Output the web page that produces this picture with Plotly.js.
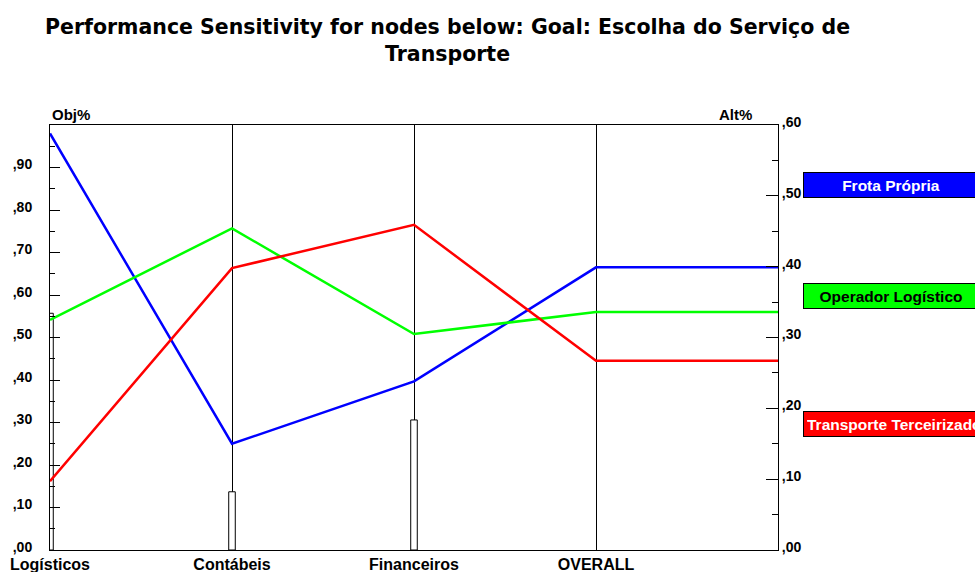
<!DOCTYPE html>
<html>
<head>
<meta charset="utf-8">
<script src="https://cdn.plot.ly/plotly-3.0.1.min.js"></script>
<style>
  html, body { margin: 0; padding: 0; background: #ffffff; }
  #chart { width: 975px; height: 572px; }
</style>
</head>
<body>
<div id="chart"></div>
<script>
// ---- Data ----
const categories = ["Logísticos", "Contábeis", "Financeiros", "OVERALL"];
const nodePriority = [0.557, 0.137, 0.306];           // bars, left axis (Obj%)
const seriesNames = ["Frota Própria", "Operador Logístico", "Transporte Terceirizado"];
const frotaPropria = [0.588, 0.150, 0.238, 0.399];    // right axis (Alt%)
const operadorLogistico = [0.325, 0.454, 0.305, 0.336];
const transporteTerceirizado = [0.097, 0.398, 0.459, 0.267];
const leftTickVals = [0, 0.1, 0.2, 0.3, 0.4, 0.5, 0.6, 0.7, 0.8, 0.9];
const leftTickText = [",00", ",10", ",20", ",30", ",40", ",50", ",60", ",70", ",80", ",90"];
const rightTickVals = [0, 0.1, 0.2, 0.3, 0.4, 0.5, 0.6];
const rightTickText = [",00", ",10", ",20", ",30", ",40", ",50", ",60"];
const titleText = "Performance Sensitivity for nodes below: Goal: Escolha do Serviço de<br>Transporte";

// ---- Build ----
const xs = categories.map((_, i) => i);
const xExt = xs.concat([categories.length]);
const ext = arr => arr.concat([arr[arr.length - 1]]);
const colors = ["#0000ff", "#00ff00", "#ff0000"];
const allSeries = [frotaPropria, operadorLogistico, transporteTerceirizado];

const FONT = "Liberation Sans, Arial, sans-serif";
const TFONT = "DejaVu Sans, Verdana, sans-serif";

const traces = [{
  type: "bar",
  x: xs.slice(0, nodePriority.length),
  y: nodePriority,
  width: 0.036,
  marker: { color: "#ffffff", line: { color: "#000000", width: 1 } },
  yaxis: "y",
  hoverinfo: "y"
}];
allSeries.forEach((s, i) => {
  traces.push({
    type: "scatter",
    mode: "lines",
    name: seriesNames[i],
    x: xExt,
    y: ext(s),
    yaxis: "y2",
    line: { color: colors[i], width: 2.5 }
  });
});

const legendY = [0.859, 0.5965, 0.2965];
const legendAlign = ["center", "center", "left"];
const annotations = seriesNames.map((n, i) => ({
  xref: "paper", yref: "paper",
  x: 1, xshift: 25, xanchor: "left",
  y: legendY[i], yanchor: "middle",
  text: n,
  showarrow: false,
  width: 168, height: 18,
  align: legendAlign[i],
  bgcolor: colors[i],
  bordercolor: "#000000", borderwidth: 1, borderpad: 3,
  font: { family: FONT, size: 15.5, weight: "bold", color: i === 1 ? "#000000" : "#ffffff" }
}));
annotations.push({
  xref: "paper", yref: "paper", x: 0, y: 1, xanchor: "left", yanchor: "bottom",
  text: "Obj%", showarrow: false,
  font: { family: FONT, size: 15, weight: "bold", color: "#000000" }
});
annotations.push({
  xref: "paper", yref: "paper", x: 1, xshift: -24, y: 1, xanchor: "right", yanchor: "bottom",
  text: "Alt%", showarrow: false,
  font: { family: FONT, size: 15, weight: "bold", color: "#000000" }
});

const layout = {
  width: 975, height: 572,
  margin: { l: 50, r: 197, t: 125, b: 22 },
  paper_bgcolor: "#ffffff", plot_bgcolor: "#ffffff",
  showlegend: false,
  title: {
    text: titleText,
    xref: "container", x: 0.459, xanchor: "center",
    yref: "container", y: 0.94, yanchor: "top",
    font: { family: TFONT, size: 20.5, weight: "bold", color: "#000000" }
  },
  xaxis: {
    range: [0, categories.length],
    tickmode: "array", tickvals: xs, ticktext: categories,
    showgrid: true, gridcolor: "#000000", gridwidth: 1,
    showline: true, mirror: true, linecolor: "#000000", linewidth: 1,
    zeroline: false, ticks: "",
    tickfont: { family: FONT, size: 16, weight: "bold", color: "#000000" },
    fixedrange: true
  },
  yaxis: {
    range: [0, 1],
    tickmode: "array", tickvals: leftTickVals, ticktext: leftTickText,
    ticks: "inside", ticklen: 10, tickcolor: "#000000", tickwidth: 1,
    minor: { tickmode: "linear", tick0: 0, dtick: 0.05, ticks: "inside", ticklen: 5, tickcolor: "#000000", showgrid: false },
    ticklabelstandoff: 14, ticklabelshift: -3,
    showgrid: false, zeroline: false,
    showline: true, linecolor: "#000000", linewidth: 1,
    tickfont: { family: FONT, size: 14, weight: "bold", color: "#000000" },
    fixedrange: true
  },
  yaxis2: {
    range: [0, 0.6],
    overlaying: "y", side: "right", anchor: "x",
    tickmode: "array", tickvals: rightTickVals, ticktext: rightTickText,
    ticks: "inside", ticklen: 12, tickcolor: "#000000", tickwidth: 1,
    minor: { tickmode: "linear", tick0: 0, dtick: 0.05, ticks: "inside", ticklen: 6, tickcolor: "#000000", showgrid: false },
    ticklabelshift: -3,
    showgrid: false, zeroline: false,
    showline: true, linecolor: "#000000", linewidth: 1,
    tickfont: { family: FONT, size: 14, weight: "bold", color: "#000000" },
    fixedrange: true
  },
  annotations: annotations
};

Plotly.newPlot("chart", traces, layout, { displayModeBar: false, staticPlot: true });
</script>
</body>
</html>
